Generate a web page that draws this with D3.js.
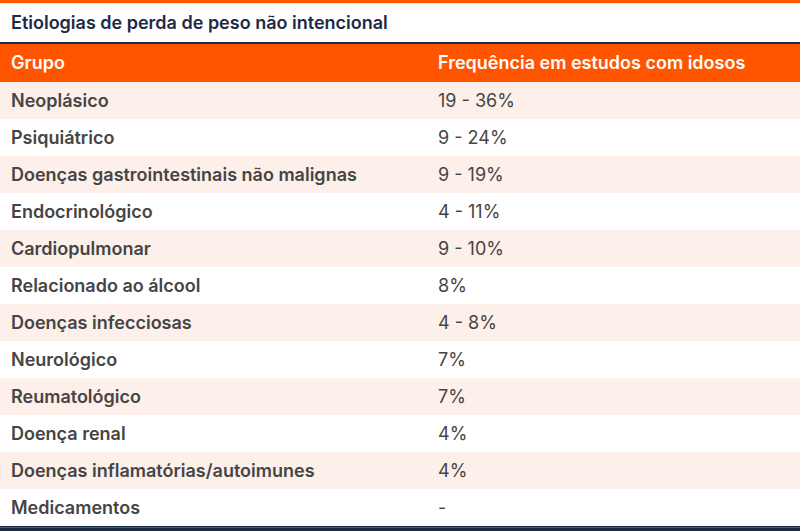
<!DOCTYPE html>
<html><head><meta charset="utf-8">
<script src="https://cdn.jsdelivr.net/npm/d3@7"></script>
<style>html,body{margin:0;padding:0;background:#fff;}svg{display:block;}</style>
</head><body><svg id="c" width="800" height="531"></svg>
<script>
const title = "Etiologias de perda de peso não intencional";
const headers = ["Grupo", "Frequência em estudos com idosos"];
const groups = ["Neoplásico","Psiquiátrico","Doenças gastrointestinais não malignas","Endocrinológico","Cardiopulmonar","Relacionado ao álcool","Doenças infecciosas","Neurológico","Reumatológico","Doença renal","Doenças inflamatórias/autoimunes","Medicamentos"];
const frequencies = ["19 - 36%","9 - 24%","9 - 19%","4 - 11%","9 - 10%","8%","4 - 8%","7%","7%","4%","4%","-"];

const W = 800, H = 531;
const svg = d3.select("#c");
const font = "Inter, 'Noto Sans', sans-serif";
const orange = "#ff5500", navy = "#1c2a45", peach = "#fdefe9", textCol = "#454545";

// top bar
svg.append("rect").attr("x",0).attr("y",0).attr("width",W).attr("height",3).attr("fill",orange);
svg.append("rect").attr("x",0).attr("y",3).attr("width",W).attr("height",1).attr("fill","#fde3d6");
svg.append("text").attr("x",11).attr("y",23).attr("dy","0.35em")
  .attr("font-family",font).attr("font-weight",600).attr("font-size",18).attr("fill",navy).text(title);
svg.append("rect").attr("x",0).attr("y",42).attr("width",W).attr("height",2).attr("fill",navy);

// header
svg.append("rect").attr("x",0).attr("y",44).attr("width",W).attr("height",38).attr("fill",orange);
const colX = d3.scaleOrdinal().domain([0,1]).range([11,438]);
headers.forEach((h,i)=>{
  svg.append("text").attr("x",colX(i)).attr("y",63).attr("dy","0.35em")
    .attr("font-family",font).attr("font-weight",600).attr("font-size",18).attr("fill","#fff").text(h);
});

const y = d3.scaleBand().domain(d3.range(groups.length)).range([82, 82+37*groups.length]).padding(0);
const rows = svg.selectAll("g.row").data(groups.map((g,i)=>({g, f: frequencies[i], i}))).join("g").attr("class","row")
  .attr("transform", d=>`translate(0,${y(d.i)})`);
rows.append("rect").attr("x",0).attr("y",0).attr("width",W).attr("height",y.bandwidth())
  .attr("fill", d=> d.i%2===0 ? peach : "#fff");
rows.append("text").attr("x",colX(0)).attr("y",y.bandwidth()/2).attr("dy","0.35em")
  .attr("font-family",font).attr("font-weight",600).attr("font-size",18).attr("fill",textCol).text(d=>d.g);
rows.append("text").attr("x",colX(1)).attr("y",y.bandwidth()/2).attr("dy","0.35em")
  .attr("font-family",font).attr("font-weight",400).attr("font-size",18).attr("fill",textCol).text(d=>d.f);

// bottom border
const yEnd = 82+37*groups.length;
svg.append("rect").attr("x",0).attr("y",yEnd).attr("width",W).attr("height",H-yEnd).attr("fill",navy);
svg.append("rect").attr("x",0).attr("y",yEnd+1).attr("width",W).attr("height",1).attr("fill","#3d5a80");
</script></body></html>
